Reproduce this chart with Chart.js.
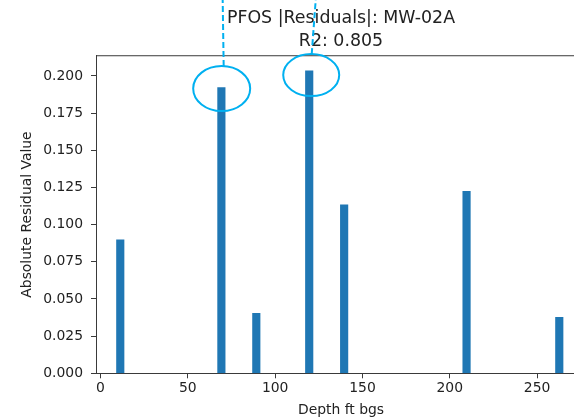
<!DOCTYPE html>
<html>
<head>
<meta charset="utf-8">
<script src="https://cdn.jsdelivr.net/npm/chart.js@4/dist/chart.umd.min.js"></script>
<style>
  html, body { margin: 0; padding: 0; background: #fff; overflow: hidden; width: 574px; height: 419px; }
  #wrap { width: 600px; height: 419px; }
</style>
</head>
<body>
<div id="wrap"><canvas id="chart" width="600" height="419"></canvas></div>
<script>
// Sample depths (ft bgs) and absolute residuals for well MW-02A
const depths = [11.3, 69.2, 89.2, 119.5, 139.5, 209.6, 262.7];
const residuals = [0.0897, 0.1921, 0.0404, 0.2034, 0.1134, 0.1224, 0.0377];
const titleLines = ['PFOS |Residuals|: MW-02A', 'R2: 0.805'];
const xTickValues = [0, 50, 100, 150, 200, 250];
const yTickValues = [0, 0.025, 0.05, 0.075, 0.1, 0.125, 0.15, 0.175, 0.2];
const xAxisTitle = 'Depth ft bgs';
const yAxisTitle = 'Absolute Residual Value';
// the two largest residuals get circled
const circled = [1, 3];

const FONT = 'DejaVu Sans';
const INK = '#222';
const SPINE = '#3a3a3a';
const MARK = '#00b0f0';

Chart.defaults.font.family = FONT;
Chart.defaults.font.size = 13.9;
Chart.defaults.color = INK;

// top and right frame lines around the plotting area
const frame = {
  id: 'frame',
  afterDatasetsDraw(chart) {
    const { ctx, chartArea: a } = chart;
    ctx.save();
    ctx.strokeStyle = SPINE;
    ctx.lineWidth = 1;
    ctx.beginPath();
    ctx.moveTo(a.left, a.top);
    ctx.lineTo(a.right, a.top);
    ctx.lineTo(a.right, a.bottom);
    ctx.stroke();
    ctx.restore();
  }
};

// hand-drawn style callouts: ellipse around a bar top plus a dashed leader upward
const callouts = {
  id: 'callouts',
  afterDraw(chart) {
    const { ctx, scales: { x, y } } = chart;
    const shapes = [
      { dx: 0.3, dy: 0.8, rx: 28.5, ry: 22.5, lead: 2.0, top: 1.0 },
      { dx: 2.0, dy: 4.2, rx: 28.0, ry: 21.0, lead: 0.5, top: 4.5 }
    ];
    ctx.save();
    ctx.strokeStyle = MARK;
    ctx.lineWidth = 2;
    circled.forEach((idx, k) => {
      const s = shapes[k];
      const cx = x.getPixelForValue(depths[idx]) + s.dx;
      const cy = y.getPixelForValue(residuals[idx]) + s.dy;
      ctx.setLineDash([]);
      ctx.beginPath();
      ctx.ellipse(cx, cy, s.rx, s.ry, 0, 0, Math.PI * 2);
      ctx.stroke();
      ctx.setLineDash([6, 3]);
      ctx.beginPath();
      ctx.moveTo(cx + s.lead, cy - s.ry);
      ctx.lineTo(cx + s.top, 0);
      ctx.stroke();
    });
    ctx.restore();
  }
};

new Chart(document.getElementById('chart'), {
  type: 'bar',
  data: {
    datasets: [{
      data: depths.map((d, i) => ({ x: d, y: residuals[i] })),
      backgroundColor: '#1f77b4',
      borderWidth: 0,
      barThickness: 7.5
    }]
  },
  options: {
    responsive: false,
    animation: false,
    devicePixelRatio: 1,
    layout: { padding: { left: 0, right: 14, top: 0, bottom: 0 } },
    plugins: {
      legend: { display: false },
      tooltip: { enabled: false },
      title: {
        display: true,
        text: titleLines,
        fullSize: false,
        color: INK,
        font: { family: FONT, size: 17.4, weight: 'normal', lineHeight: 1.32 },
        padding: { top: 7.5, bottom: 2.3 }
      }
    },
    scales: {
      x: {
        type: 'linear',
        min: -2.6,
        max: 278,
        offset: false,
        afterBuildTicks: s => { s.ticks = xTickValues.map(v => ({ value: v })); },
        afterFit: s => { s.height = 45.7; },
        grid: { offset: false, drawOnChartArea: false, drawTicks: true, tickLength: 5, color: SPINE },
        border: { display: true, color: SPINE, width: 1 },
        ticks: { padding: 2, color: INK, maxRotation: 0, callback: v => String(v) },
        title: { display: true, text: xAxisTitle, color: INK, padding: { top: 0, bottom: 0 } }
      },
      y: {
        type: 'linear',
        min: 0,
        max: 0.2136,
        afterBuildTicks: s => { s.ticks = yTickValues.map(v => ({ value: v })); },
        afterFit: s => { s.width = 96; },
        grid: { offset: false, drawOnChartArea: false, drawTicks: true, tickLength: 5, color: SPINE },
        border: { display: true, color: SPINE, width: 1 },
        ticks: { padding: 8, color: INK, callback: v => Number(v).toFixed(3) },
        title: { display: true, text: yAxisTitle, color: INK, padding: { top: 18.7, bottom: 0 } }
      }
    }
  },
  plugins: [frame, callouts]
});
</script>
</body>
</html>
